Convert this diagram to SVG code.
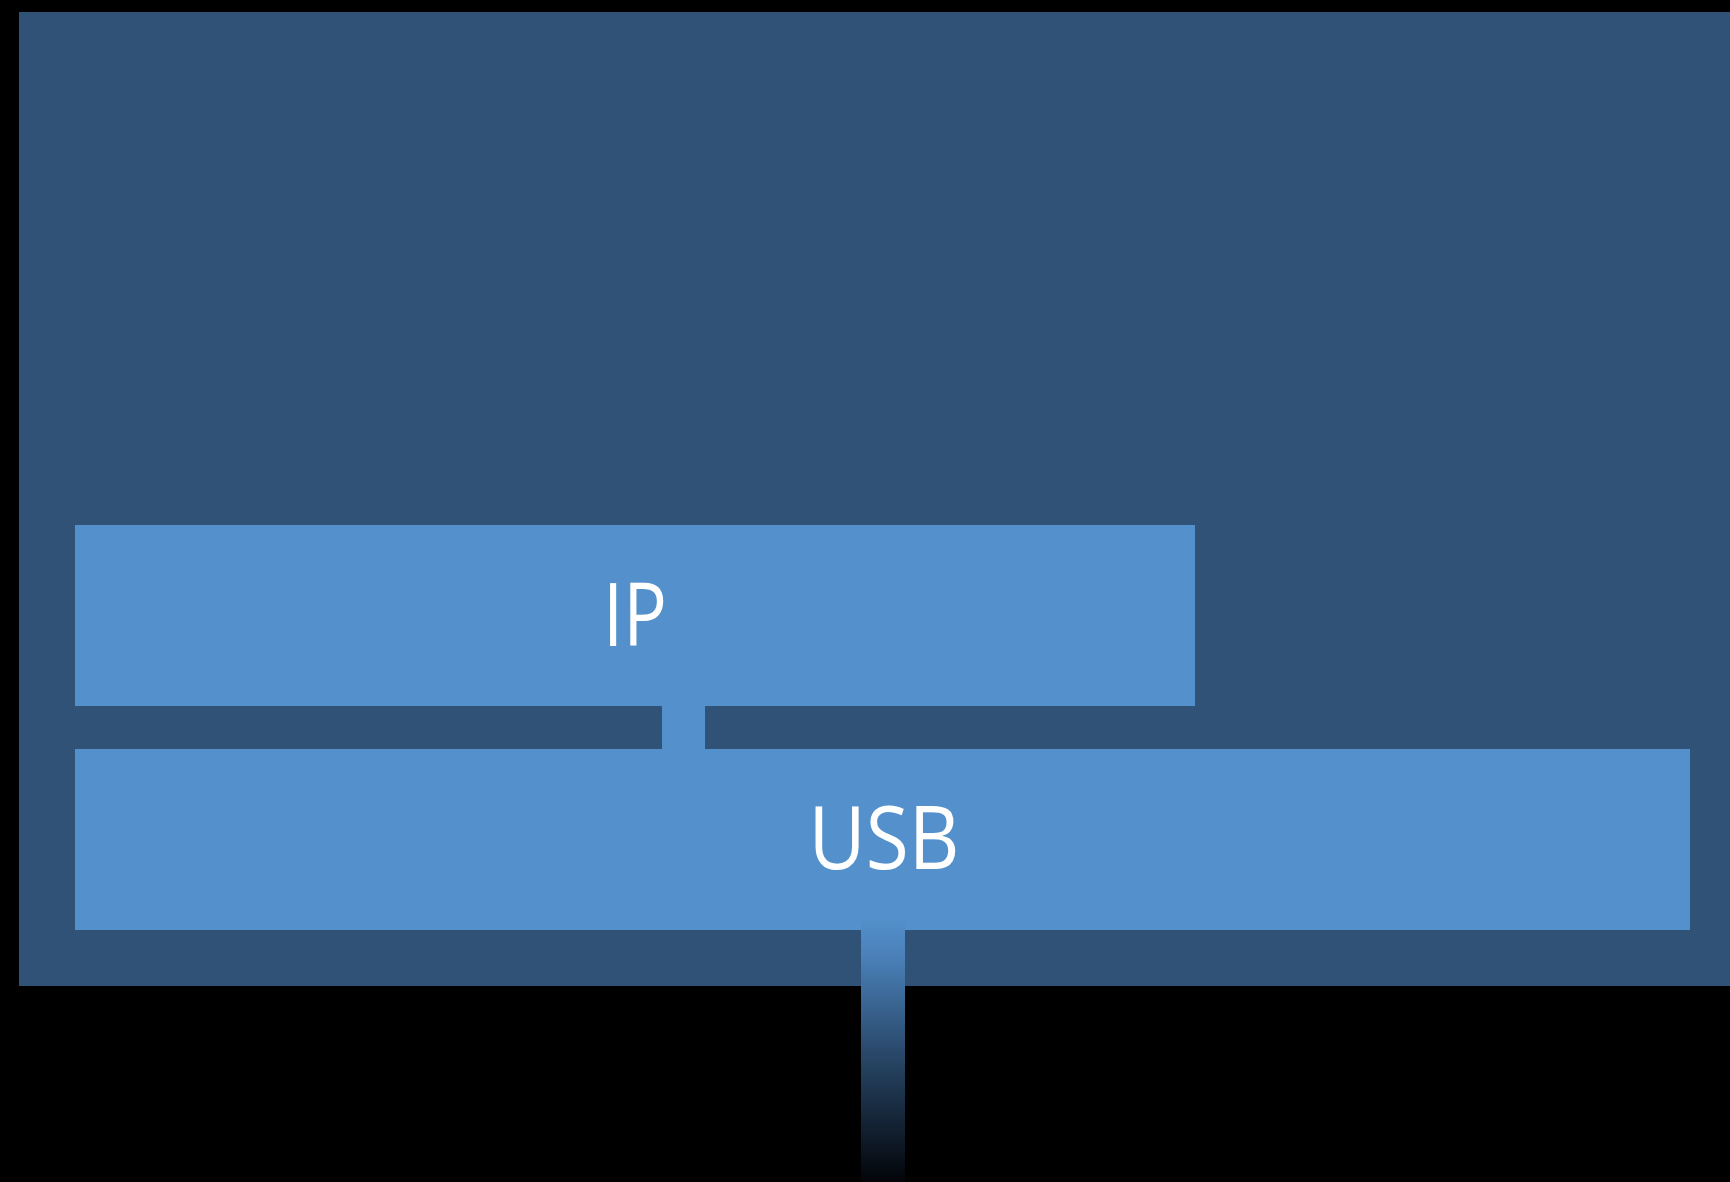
<svg xmlns="http://www.w3.org/2000/svg" width="1730" height="1182" viewBox="0 0 1730 1182">
  <defs>
    <linearGradient id="cable" x1="0" y1="0" x2="0" y2="1">
      <stop offset="0" stop-color="#5390cc"/>
      <stop offset="0.15" stop-color="#4a80b8"/>
      <stop offset="0.5" stop-color="#2a4a6c"/>
      <stop offset="1" stop-color="#020408"/>
    </linearGradient>
  </defs>
  <style>
    .box { fill: #5390cc; }
    .frame { fill: #2f5276; }
    .label { font-family: "Open Sans", "Noto Sans", sans-serif; font-size: 88px; fill: #ffffff; text-anchor: middle; }
  </style>
  <rect x="0" y="0" width="1730" height="1182" fill="#000000"/>
  <g id="device">
    <rect class="frame" x="19" y="12" width="1711" height="974"/>
  </g>
  <g id="ip">
    <rect class="box" x="75" y="525" width="1120" height="181"/>
    <text class="label" x="635" y="646" textLength="64" lengthAdjust="spacingAndGlyphs">IP</text>
  </g>
  <g id="usb">
    <rect class="box" x="75" y="749" width="1615" height="181"/>
    <text class="label" x="884" y="869" textLength="151" lengthAdjust="spacingAndGlyphs">USB</text>
  </g>
  <g id="connectors">
    <rect class="box" x="662" y="700" width="43" height="55"/>
    <rect x="861" y="918" width="44" height="264" fill="url(#cable)"/>
  </g>
</svg>
